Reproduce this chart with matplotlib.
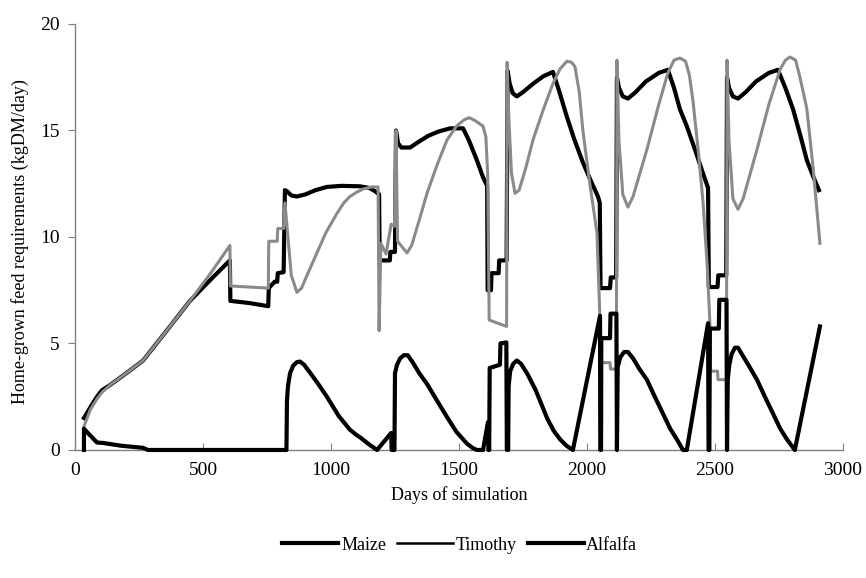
import matplotlib
matplotlib.use("Agg")
import matplotlib.pyplot as plt
from matplotlib.lines import Line2D

plt.rcParams['font.family'] = ['Liberation Serif', 'DejaVu Serif']

# values (day, kgDM/day)
maize_x = [35, 60, 86, 105, 137, 200, 266, 371, 449, 530, 605, 607, 680, 755, 757, 780, 790, 792,
           815, 820, 828, 845, 867, 900, 940, 984, 1040, 1113, 1150, 1172, 1188, 1190, 1230, 1232,
           1250, 1254, 1262, 1275, 1309, 1340, 1380, 1420, 1465, 1516, 1540, 1570, 1594, 1610,
           1612, 1625, 1627, 1655, 1657, 1686, 1690, 1698, 1710, 1726, 1750, 1790, 1830, 1867,
           1890, 1920, 1950, 1984, 2020, 2043, 2050, 2053, 2090, 2093, 2114, 2117, 2125, 2140,
           2160, 2190, 2230, 2280, 2316, 2340, 2363, 2390, 2422, 2450, 2473, 2476, 2510, 2513,
           2544, 2547, 2555, 2570, 2590, 2620, 2660, 2710, 2746, 2775, 2805, 2835, 2859, 2885, 2906]
maize_y = [1.5, 2.0, 2.5, 2.8, 3.05, 3.6, 4.2, 5.8, 7.0, 8.0, 8.9, 7.0, 6.9, 6.75, 7.6, 7.9, 7.9, 8.3,
           8.35, 12.2, 12.15, 11.95, 11.9, 12.0, 12.2, 12.35, 12.4, 12.38, 12.3, 12.15, 12.0, 8.9, 8.9, 9.3,
           9.3, 15.0, 14.4, 14.2, 14.2, 14.45, 14.75, 14.95, 15.1, 15.1, 14.5, 13.6, 12.8, 12.4,
           7.5, 7.5, 8.3, 8.3, 8.9, 8.9, 17.8, 17.2, 16.75, 16.6, 16.8, 17.2, 17.55, 17.75,
           16.9, 15.7, 14.6, 13.5, 12.5, 11.9, 11.6, 7.6, 7.6, 8.1, 8.1, 17.5, 17.0, 16.6,
           16.5, 16.8, 17.3, 17.7, 17.85, 17.0, 16.0, 15.2, 14.1, 13.1, 12.3, 7.65, 7.65, 8.2,
           8.2, 17.5, 17.0, 16.6, 16.5, 16.8, 17.3, 17.7, 17.85, 17.0, 16.0, 14.7, 13.6, 12.8, 12.2]

timothy_x = [35, 60, 86, 105, 137, 200, 266, 371, 449, 530, 605, 607, 680, 755, 757, 790, 792, 815,
             820, 845, 867, 885, 910, 945, 980, 1023, 1050, 1074, 1100, 1125, 1160, 1184, 1188,
             1195, 1215, 1235, 1248, 1254, 1260, 1297, 1315, 1345, 1375, 1415, 1453, 1490, 1520,
             1540, 1565, 1594, 1605, 1612, 1618, 1686, 1688, 1695, 1705, 1719, 1735, 1760, 1789,
             1830, 1867, 1895, 1922, 1940, 1953, 1970, 1984, 2010, 2039, 2050, 2052, 2090, 2092,
             2115, 2117, 2125, 2140, 2160, 2180, 2234, 2280, 2316, 2340, 2363, 2385, 2400, 2414,
             2435, 2453, 2470, 2480, 2483, 2510, 2512, 2545, 2547, 2555, 2570, 2590, 2610, 2664,
             2710, 2754, 2775, 2793, 2815, 2830, 2845, 2859, 2883, 2910]
timothy_y = [1.1, 1.9, 2.4, 2.7, 3.05, 3.6, 4.2, 5.8, 7.0, 8.3, 9.6, 7.7, 7.65, 7.6, 9.8, 9.8, 10.4, 10.4,
             11.6, 8.2, 7.4, 7.6, 8.3, 9.25, 10.2, 11.1, 11.6, 11.9, 12.1, 12.25, 12.35, 12.35, 5.6,
             9.7, 9.2, 10.6, 10.5, 15.0, 9.8, 9.25, 9.6, 10.8, 12.05, 13.4, 14.55, 15.2, 15.5,
             15.6, 15.45, 15.2, 14.7, 13.0, 6.1, 5.8, 18.2, 15.5, 13.0, 12.05, 12.2, 13.2, 14.55,
             16.0, 17.2, 17.9, 18.25, 18.2, 18.0, 16.8, 15.0, 12.6, 10.2, 6.4, 4.1, 4.1, 3.8,
             3.8, 18.3, 14.5, 12.0, 11.4, 11.9, 14.1, 16.2, 17.7, 18.3, 18.4, 18.25, 17.6, 16.4,
             14.0, 11.7, 8.6, 6.0, 3.7, 3.7, 3.3, 3.3, 18.3, 14.5, 11.8, 11.3, 11.8, 14.1,
             16.2, 17.85, 18.3, 18.45, 18.3, 17.6, 16.8, 16.0, 13.3, 9.7]

alfalfa_x = [35, 35, 50, 86, 109, 180, 266, 285, 826, 828, 832, 840, 852, 866, 879, 895, 920, 950,
             984, 1030, 1074, 1100, 1113, 1150, 1180, 1235, 1237, 1248, 1250, 1258, 1270, 1285,
             1300, 1320, 1345, 1375, 1415, 1453, 1490, 1531, 1555, 1570, 1594, 1613, 1615, 1618,
             1620, 1660, 1662, 1685, 1687, 1692, 1694, 1700, 1712, 1726, 1742, 1766, 1800, 1844,
             1870, 1895, 1920, 1945, 2051, 2052, 2055, 2056, 2090, 2092, 2115, 2117, 2120, 2130,
             2145, 2160, 2180, 2205, 2234, 2265, 2297, 2325, 2351, 2375, 2390, 2473, 2475, 2478,
             2480, 2515, 2517, 2545, 2547, 2550, 2556, 2565, 2578, 2590, 2610, 2635, 2664, 2695,
             2727, 2755, 2781, 2812, 2910]
alfalfa_y = [0.0, 1.0, 0.8, 0.35, 0.33, 0.2, 0.1, 0.0, 0.0, 2.3, 3.0, 3.6, 3.95, 4.12, 4.15, 4.0, 3.6, 3.1,
             2.5, 1.6, 0.95, 0.7, 0.6, 0.25, 0.0, 0.8, 0.0, 0.0, 3.6, 4.0, 4.3, 4.45,
             4.45, 4.1, 3.6, 3.1, 2.3, 1.55, 0.85, 0.3, 0.08, 0.0, 0.0, 1.3, 0.0, 0.0,
             3.85, 4.0, 5.0, 5.05, 0.0, 0.0, 3.0, 3.7, 4.05, 4.2, 4.05, 3.6, 2.8, 1.5,
             0.9, 0.5, 0.2, 0.0, 6.3, 0.0, 0.0, 5.25, 5.25, 6.4, 6.4, 0.0, 3.9, 4.35,
             4.6, 4.6, 4.3, 3.8, 3.3, 2.5, 1.7, 1.0, 0.5, 0.0, 0.0, 5.95, 0.0, 0.0,
             5.7, 5.7, 7.05, 7.05, 0.0, 3.3, 4.0, 4.5, 4.8, 4.8, 4.4, 3.9, 3.3, 2.5,
             1.7, 1.0, 0.5, 0.0, 5.8]

labels = ['Maize', 'Timothy', 'Alfalfa']

fig = plt.figure(figsize=(8.66, 5.78), dpi=100)
ax = fig.add_axes([0.0866, 0.2215, 0.8868, 0.737])

ax.plot(maize_x, maize_y, color='black', lw=3.0, clip_on=False, zorder=2)
ax.plot(timothy_x, timothy_y, color='#8a8a8a', lw=2.2, clip_on=False, zorder=3)
ax.plot(alfalfa_x, alfalfa_y, color='black', lw=3.0, clip_on=False, zorder=4)

ax.set_xlim(0, 3000)
ax.set_ylim(0, 20)
ax.set_xticks(range(0, 3001, 500))
ax.set_yticks(range(0, 21, 5))

for s in ['top', 'right']:
    ax.spines[s].set_visible(False)
for s in ['left', 'bottom']:
    ax.spines[s].set_color('#808080')
    ax.spines[s].set_linewidth(1.0)

ax.tick_params(axis='x', direction='in', length=5, color='#808080', labelsize=14, pad=9)
ax.tick_params(axis='y', direction='out', length=5, color='#808080', labelsize=14, pad=6)

ax.set_xlabel('Days of simulation', fontsize=13)
ax.xaxis.set_label_coords(0.5, -0.085)
ax.set_ylabel('Home-grown feed requirements (kgDM/day)', fontsize=13)
ax.yaxis.set_label_coords(-0.06, 0.49)

handles = [Line2D([], [], color='black', lw=3.0),
           Line2D([], [], color='black', lw=1.8),
           Line2D([], [], color='black', lw=3.0)]
fig.legend(handles, labels, loc='center', bbox_to_anchor=(0.531, 0.057), ncol=3,
           frameon=False, fontsize=13, handlelength=3.1, handletextpad=0.15,
           columnspacing=0.6)

fig.savefig('out.png', dpi=100)
